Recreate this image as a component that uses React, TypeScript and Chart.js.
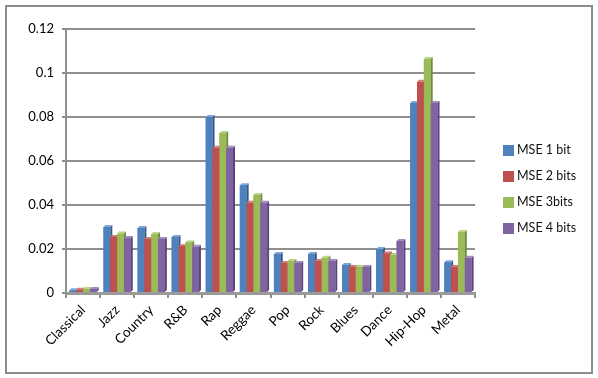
import React, { useEffect, useRef } from 'react';
import { Chart, registerables } from 'chart.js';
Chart.register(...registerables);

const categories = ['Classical', 'Jazz', 'Country', 'R&B', 'Rap', 'Reggae', 'Pop', 'Rock', 'Blues', 'Dance', 'Hip-Hop', 'Metal'];
const seriesNames = ['MSE 1 bit', 'MSE 2 bits', 'MSE 3bits', 'MSE 4 bits'];
const mse1 = [0.0012, 0.030, 0.0295, 0.0255, 0.080, 0.049, 0.0177, 0.0177, 0.0127, 0.020, 0.0864, 0.014];
const mse2 = [0.0015, 0.0255, 0.0245, 0.0213, 0.066, 0.041, 0.0136, 0.0145, 0.0118, 0.018, 0.096, 0.0118];
const mse3 = [0.0018, 0.027, 0.0268, 0.023, 0.0727, 0.0445, 0.0145, 0.016, 0.0118, 0.0173, 0.1064, 0.0277];
const mse4 = [0.0018, 0.025, 0.0245, 0.021, 0.066, 0.041, 0.0136, 0.0145, 0.0118, 0.0236, 0.0864, 0.016];
const seriesValues = [mse1, mse2, mse3, mse4];
const colors = ['#4F81BD', '#C0504D', '#9BBB59', '#8064A2'];
const sideColors = ['#345A88', '#8E3532', '#6E8A3A', '#5A4479'];
const topColors = ['#7FA5D6', '#D77B78', '#B9D487', '#A28BC2'];
const yMax = 0.12;
const yStep = 0.02;

const FONT = 'Lato, "Open Sans", sans-serif';

const bars3d = {
  id: 'bars3d',
  afterDatasetsDraw(chart: any) {
    const ctx = chart.ctx;
    const metas = seriesNames.map((_, i) => chart.getDatasetMeta(i));
    const dx = 2, dy = 2;
    ctx.save();
    for (let c = 0; c < categories.length; c++) {
      for (let d = 0; d < metas.length; d++) {
        const el = metas[d].data[c];
        if (!el) continue;
        const { x, y, base, width } = el.getProps(['x', 'y', 'base', 'width'], true);
        const l = x - width / 2, r = x + width / 2;
        ctx.fillStyle = sideColors[d];
        ctx.beginPath();
        ctx.moveTo(r, y); ctx.lineTo(r + dx, y - dy); ctx.lineTo(r + dx, base - dy); ctx.lineTo(r, base);
        ctx.closePath(); ctx.fill();
        ctx.fillStyle = topColors[d];
        ctx.beginPath();
        ctx.moveTo(l, y); ctx.lineTo(l + dx, y - dy); ctx.lineTo(r + dx, y - dy); ctx.lineTo(r, y);
        ctx.closePath(); ctx.fill();
        ctx.fillStyle = colors[d];
        ctx.fillRect(l, y, width, base - y);
      }
    }
    ctx.restore();
  },
  afterDraw(chart: any) {
    const ctx = chart.ctx;
    const area = chart.chartArea;
    const lx = area.right + 28;
    const gap = 26;
    const y0 = chart.height / 2 - gap * (seriesNames.length - 1) / 2;
    ctx.save();
    ctx.font = '12.5px ' + FONT;
    ctx.textBaseline = 'middle';
    ctx.textAlign = 'left';
    seriesNames.forEach((name, i) => {
      const cy = y0 + i * gap;
      ctx.fillStyle = colors[i];
      ctx.fillRect(lx, cy - 5, 11, 11);
      ctx.fillStyle = '#111';
      ctx.fillText(name, lx + 14, cy);
    });
    ctx.restore();
  },
};

export default function App() {
  const ref = useRef<HTMLCanvasElement>(null);
  useEffect(() => {
    if (!ref.current) return;
    const chart = new Chart(ref.current, {
      type: 'bar',
      data: {
        labels: categories,
        datasets: seriesNames.map((name, i) => ({
          label: name,
          data: seriesValues[i],
          backgroundColor: colors[i],
          categoryPercentage: 0.8,
          barPercentage: 1.0,
        })),
      },
      options: {
        animation: false,
        responsive: false,
        maintainAspectRatio: false,
        layout: { padding: { top: 29, right: 123, left: 0, bottom: 0 } },
        plugins: { legend: { display: false }, tooltip: { enabled: false } },
        scales: {
          x: {
            offset: true,
            grid: { display: true, drawOnChartArea: false, tickLength: 5, color: '#8c8c8c', lineWidth: 2 },
            border: { display: true, color: '#9a9a9a', width: 3 },
            ticks: { maxRotation: 45, minRotation: 45, autoSkip: false, padding: 4, color: '#000', font: { family: FONT, size: 13.5 } },
            afterFit: (s: any) => { s.height = 85; },
          },
          y: {
            min: 0,
            max: yMax,
            ticks: {
              stepSize: yStep,
              padding: 8,
              color: '#000',
              font: { family: FONT, size: 13 },
              callback: (v: any) => String(+Number(v).toFixed(2)),
            },
            grid: { color: '#8f8f8f', lineWidth: 2, tickLength: 4 },
            border: { display: true, color: '#8f8f8f', width: 2 },
            afterFit: (s: any) => { s.width = 66; },
          },
        },
      },
      plugins: [bars3d],
    });
    return () => chart.destroy();
  }, []);
  return (
    <div style={{ position: 'absolute', left: 0, top: 0, width: 598, height: 378, background: '#fff' }}>
      <canvas ref={ref} width={598} height={378} style={{ position: 'absolute', left: 0, top: 0, width: 598, height: 378 }} />
      <div style={{ position: 'absolute', left: 5, top: 5, width: 588, height: 369, boxSizing: 'border-box', border: '2px solid #8c8c8c', pointerEvents: 'none' }} />
    </div>
  );
}
